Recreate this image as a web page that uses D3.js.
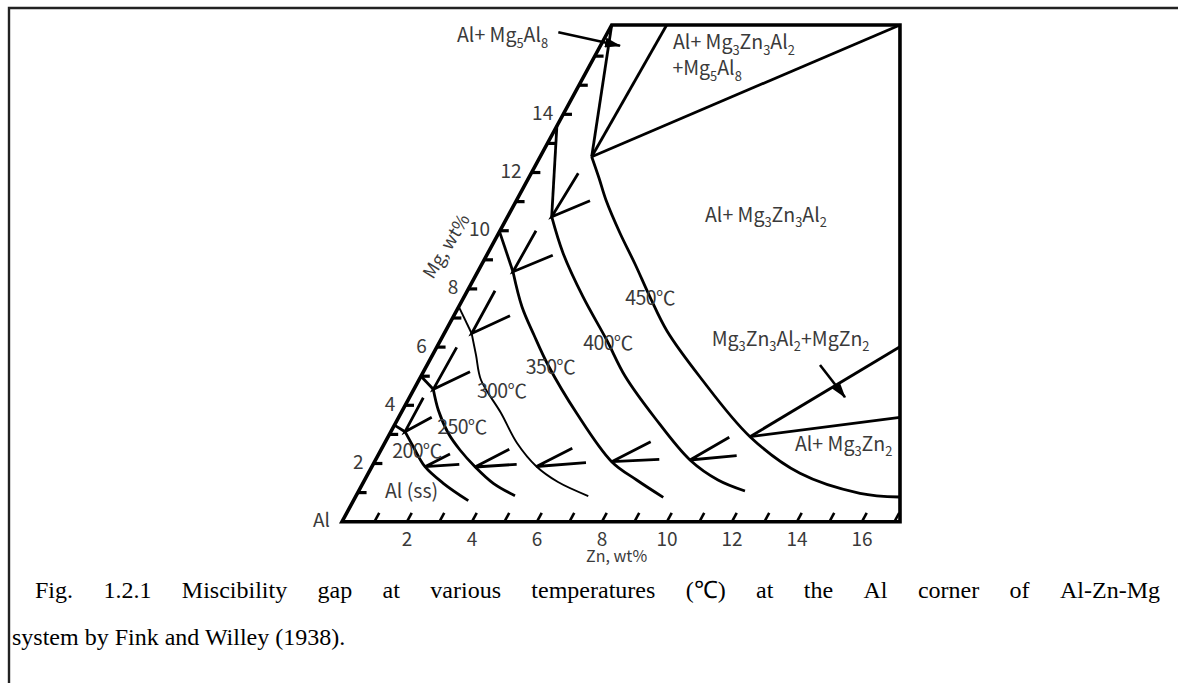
<!DOCTYPE html>
<html>
<head>
<meta charset="utf-8">
<script src="https://cdn.jsdelivr.net/npm/d3@7"></script>
<style>
  body { margin: 0; background: #fff; }
  svg { display: block; }
</style>
</head>
<body>
<svg id="chart" width="1178" height="683"></svg>
<script>
// ---- Composition ranges (wt%) -------------------------------------------
const znMax = 17.17;
const mgMax = 17.07;
const znTicks = d3.range(1, 18);
const mgTicks = d3.range(1, 17);
const znTickLabels = [2, 4, 6, 8, 10, 12, 14, 16];
const mgTickLabels = [2, 4, 6, 8, 10, 12, 14];

// Plot boundary, [Zn, Mg]
const boundary = [[0, 0], [17.17, 0], [8.87, 17.07], [0, 17.07]];

// Solvus curves of the Al(ss) field, [Zn, Mg]; first point lies on the Mg edge
const temps = [200, 250, 300, 350, 400, 450];
const solvus200 = [[0, 3.32], [0.435, 3.093], [0.941, 2.577], [1.635, 1.89], [2.475, 1.32], [3.535, 0.722]];
const solvus250 = [[0, 5.0], [0.597, 4.55], [1.097, 3.838], [1.794, 3.038], [2.433, 2.464], [3.174, 1.89], [4.014, 1.32], [4.889, 0.893]];
const solvus300 = [[0, 7.39], [0.846, 6.467], [1.338, 5.729], [1.91, 4.869], [3.076, 3.735], [4.07, 2.704], [5.062, 1.897], [5.983, 1.364], [7.149, 0.883]];
const solvus350 = [[0, 9.97], [1.085, 8.591], [1.946, 7.388], [2.788, 6.416], [3.721, 5.385], [5.411, 3.725], [7.296, 2.062], [8.371, 1.433], [9.478, 0.838]];
const solvus400 = [[0, 13.6], [1.357, 10.481], [2.311, 9.234], [3.655, 7.732], [5.109, 6.244], [6.274, 5.007], [7.898, 3.564], [9.677, 2.12], [10.873, 1.433], [11.887, 1.055]];
const solvus450 = [[0, 17.07], [1.585, 12.543], [2.166, 11.811], [2.748, 11.055], [3.729, 9.921], [4.711, 8.856], [5.723, 7.722], [6.815, 6.553], [8.598, 4.973], [11.134, 2.921], [13.284, 1.663], [15.464, 0.976], [16.726, 0.849]];
const solvusLines = [solvus200, solvus250, solvus300, solvus350, solvus400, solvus450];

// Three-phase field boundaries, [Zn, Mg]
const mg5al8Boundary = [[1.585, 12.543], [1.692, 17.07]];
const tPhaseBoundary = [[1.585, 12.543], [8.87, 17.07]];
const mgzn2Upper = [[11.134, 2.921], [14.245, 6.014]];
const mgzn2Lower = [[11.134, 2.921], [15.425, 3.588]];

// Tie-line pairs: [end A, vertex on the solvus, end B]
const tiesUpper = [
  [[0.43, 4.261], [0.435, 3.093], [1.016, 3.588]],
  [[0.616, 5.993], [0.597, 4.55], [1.433, 5.155]],
  [[0.849, 7.938], [0.846, 6.467], [1.728, 7.079]],
  [[1.108, 10.0], [1.085, 8.591], [2.034, 9.155]],
  [[1.449, 11.973], [1.357, 10.481], [2.268, 11.031]]
];
const tiesLower = [
  [[2.192, 2.326], [1.635, 1.89], [2.65, 1.973]],
  [[3.938, 2.488], [3.178, 1.88], [4.416, 1.973]],
  [[5.86, 2.522], [5.062, 1.897], [6.522, 2.027]],
  [[8.162, 2.749], [7.296, 2.062], [8.721, 2.144]],
  [[10.507, 2.9], [9.677, 2.12], [11.042, 2.268]]
];

// ---- Scales ---------------------------------------------------------------
const svg = d3.select("#chart");
const znScale = d3.scaleLinear().domain([0, znMax]).range([342, 900]);
const mgScale = d3.scaleLinear().domain([0, mgMax]).range([521.7, 25]);
const shear = 269.7 / 496.7; // sideways lean of the Mg edge per pixel of rise

function proj(d) {
  const y = mgScale(d[1]);
  return [znScale(d[0]) + (mgScale(0) - y) * shear, y];
}
const straight = d3.line().x(d => proj(d)[0]).y(d => proj(d)[1]);
const smooth = d3.line().x(d => proj(d)[0]).y(d => proj(d)[1]).curve(d3.curveCatmullRom.alpha(0.5));

const textFont = "'Noto Sans CJK JP', 'Noto Sans', sans-serif";
const textColor = "#3a3a3a";

// ---- Page frame -----------------------------------------------------------
svg.append("path").attr("d", "M9,683 V8 H1178")
  .attr("fill", "none").attr("stroke", "#222").attr("stroke-width", 2.4);

const g = svg.append("g");

// ---- Plot outline ---------------------------------------------------------
g.append("path").attr("d", straight(boundary) + "Z")
  .attr("fill", "none").attr("stroke", "#000").attr("stroke-width", 3.6)
  .attr("stroke-linejoin", "miter");

// Zn ticks run parallel to the Mg edge
g.selectAll(".zn-tick").data(znTicks).join("line")
  .attr("x1", d => proj([d, 0])[0]).attr("y1", d => proj([d, 0])[1])
  .attr("x2", d => proj([d, 0.3])[0]).attr("y2", d => proj([d, 0.3])[1])
  .attr("stroke", "#000").attr("stroke-width", 2.6);

// Mg ticks run parallel to the Zn axis
g.selectAll(".mg-tick").data(mgTicks).join("line")
  .attr("x1", d => proj([0, d])[0]).attr("y1", d => proj([0, d])[1])
  .attr("x2", d => proj([0.27, d])[0]).attr("y2", d => proj([0.27, d])[1])
  .attr("stroke", "#000").attr("stroke-width", 3.2);

g.selectAll(".zn-label").data(znTickLabels).join("text")
  .attr("x", d => proj([d, 0])[0]).attr("y", d => proj([d, 0])[1] + 16)
  .attr("text-anchor", "middle").attr("dominant-baseline", "central")
  .attr("font-family", textFont).attr("font-size", 19).attr("fill", textColor)
  .text(d => d);

g.selectAll(".mg-label").data(mgTickLabels).join("text")
  .attr("x", d => proj([0, d])[0] - 10).attr("y", d => proj([0, d])[1] - 3)
  .attr("text-anchor", "end").attr("dominant-baseline", "central")
  .attr("font-family", textFont).attr("font-size", 19).attr("fill", textColor)
  .text(d => d);

// Axis titles
const al = proj([0, 0]);
g.append("text").attr("x", al[0] - 12).attr("y", al[1] - 3)
  .attr("text-anchor", "end").attr("dominant-baseline", "central")
  .attr("font-family", textFont).attr("font-size", 19).attr("fill", textColor).text("Al");

const znTitle = proj([8.45, 0]);
g.append("text").attr("x", znTitle[0]).attr("y", znTitle[1] + 33)
  .attr("text-anchor", "middle").attr("dominant-baseline", "central")
  .attr("font-family", textFont).attr("font-size", 16).attr("fill", textColor).text("Zn, wt%");

const edgeAngle = Math.atan2(proj([0, 1])[1] - proj([0, 0])[1], proj([0, 1])[0] - proj([0, 0])[0]) * 180 / Math.PI;
const mgTitle = proj([-1.45, 9.5]);
g.append("text")
  .attr("transform", `translate(${mgTitle[0]},${mgTitle[1]}) rotate(${edgeAngle + 3})`)
  .attr("text-anchor", "middle").attr("dominant-baseline", "central")
  .attr("font-family", textFont).attr("font-size", 18).attr("fill", textColor).text("Mg, wt%");

// ---- Solvus curves --------------------------------------------------------
solvusLines.forEach((pts, i) => {
  const w = temps[i] === 300 ? 1.9 : 2.8;
  g.append("path").attr("d", straight(pts.slice(0, 2)))
    .attr("fill", "none").attr("stroke", "#000").attr("stroke-width", w);
  g.append("path").attr("d", smooth(pts.slice(1)))
    .attr("fill", "none").attr("stroke", "#000").attr("stroke-width", w);
});

[mg5al8Boundary, tPhaseBoundary, mgzn2Upper, mgzn2Lower].forEach(seg => {
  g.append("path").attr("d", straight(seg))
    .attr("fill", "none").attr("stroke", "#000").attr("stroke-width", 2.8);
});

g.selectAll(".tie").data(tiesUpper.concat(tiesLower)).join("path")
  .attr("d", d => straight(d))
  .attr("fill", "none").attr("stroke", "#000").attr("stroke-width", 2.8)
  .attr("stroke-linejoin", "miter");

// ---- Annotations ----------------------------------------------------------
const defs = svg.append("defs");
defs.append("marker").attr("id", "head")
  .attr("markerUnits", "userSpaceOnUse")
  .attr("viewBox", "0 0 16 10").attr("refX", 15).attr("refY", 5)
  .attr("markerWidth", 16).attr("markerHeight", 10).attr("orient", "auto")
  .append("path").attr("d", "M0,0 L16,5 L0,10 Z").attr("fill", "#000");

const pointers = [
  [[-1.52, 16.818], [0.603, 16.357]],
  [[12.09, 5.385], [13.399, 4.275]]
];
g.selectAll(".pointer").data(pointers).join("path")
  .attr("d", d => straight(d))
  .attr("fill", "none").attr("stroke", "#000").attr("stroke-width", 2.6)
  .attr("marker-end", "url(#head)");

function richText(sel, str, size) {
  // "_n" marks a one-character subscript
  const parts = str.split(/(_.)/).filter(s => s.length);
  let shifted = false;
  parts.forEach(p => {
    if (p[0] === "_") {
      sel.append("tspan").attr("font-size", size * 0.66).attr("dy", shifted ? 0 : size * 0.28).text(p.slice(1));
      shifted = true;
    } else {
      sel.append("tspan").attr("dy", shifted ? -size * 0.28 : 0).text(p);
      shifted = false;
    }
  });
}

const phaseLabels = [
  { text: "Al+ Mg_5Al_8", at: [-1.67, 16.48], anchor: "end" },
  { text: "Al+ Mg_3Zn_3Al_2", at: [2.29, 16.24], anchor: "start" },
  { text: "+Mg_5Al_8", at: [2.705, 15.35], anchor: "start" },
  { text: "Al+ Mg_3Zn_3Al_2", at: [6.163, 10.299], anchor: "start" },
  { text: "Mg_3Zn_3Al_2+MgZn_2", at: [8.44, 6.038], anchor: "start" },
  { text: "Al+ Mg_3Zn_2", at: [12.757, 2.43], anchor: "start" },
  { text: "Al (ss)", at: [0.927, 0.814], anchor: "start" }
];
phaseLabels.forEach(l => {
  const p = proj(l.at);
  const t = g.append("text").attr("x", p[0]).attr("y", p[1])
    .attr("text-anchor", l.anchor)
    .attr("font-family", textFont).attr("font-size", 19.5).attr("fill", textColor);
  richText(t, l.text, 19.5);
});

const tempLabelAt = [[1.093, 2.498], [2.077, 3.323], [2.697, 4.56], [3.814, 5.351], [5.166, 6.21], [5.708, 7.756]];
g.selectAll(".temp").data(temps).join("text")
  .attr("x", (d, i) => proj(tempLabelAt[i])[0]).attr("y", (d, i) => proj(tempLabelAt[i])[1])
  .attr("text-anchor", "middle").attr("dominant-baseline", "central")
  .attr("font-family", textFont).attr("font-size", 19.5).attr("fill", textColor)
  .attr("letter-spacing", -0.6)
  .text(d => d + "℃");

// ---- Caption ----------------------------------------------------------------
// The first line is justified: extra room is shared out between the words.
const captionFont = "'Liberation Serif', 'Times New Roman', serif";
const captionLines = [
  "Fig. 1.2.1 Miscibility gap at various temperatures (℃) at the Al corner of Al-Zn-Mg",
  "system by Fink and Willey (1938)."
];
const captionLeft = [35, 12];
const captionRight = 1160;

const line1 = svg.append("text").attr("y", 598)
  .attr("font-family", captionFont).attr("font-size", 24).attr("fill", "#000");
const words = captionLines[0].split(" ");
const spans = words.map(w => line1.append("tspan").text(w));
const widths = spans.map(s => s.node().getComputedTextLength());
const gap = (captionRight - captionLeft[0] - d3.sum(widths)) / (words.length - 1);
let cursor = captionLeft[0];
spans.forEach((s, i) => { s.attr("x", cursor); cursor += widths[i] + gap; });

svg.append("text").attr("x", captionLeft[1]).attr("y", 645)
  .attr("font-family", captionFont).attr("font-size", 24).attr("fill", "#000")
  .text(captionLines[1]);
</script>
</body>
</html>
